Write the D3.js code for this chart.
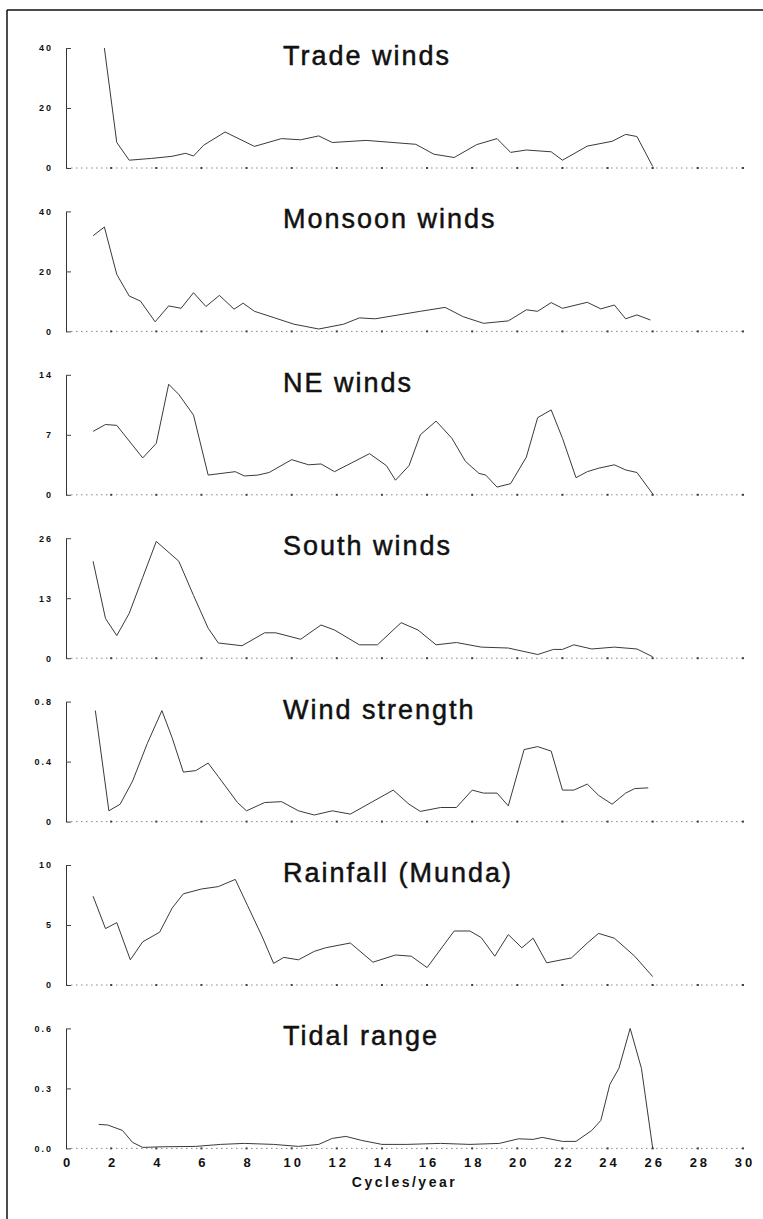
<!DOCTYPE html>
<html>
<head>
<meta charset="utf-8">
<script src="https://cdn.jsdelivr.net/npm/d3@7"></script>
<style>
  html, body { margin: 0; padding: 0; background: #fff; }
  svg { display: block; }
</style>
</head>
<body>
<svg id="chart" width="763" height="1219"></svg>
<script>
// ---------- data (cycles/year, spectral value) ----------
const titles = ["Trade winds", "Monsoon winds", "NE winds", "South winds",
                "Wind strength", "Rainfall (Munda)", "Tidal range"];
const yMaxes = [40, 40, 14, 26, 0.8, 10, 0.6];
const yTickValues = [[0, 20, 40], [0, 20, 40], [0, 7, 14], [0, 13, 26],
                     [0, 0.4, 0.8], [0, 5, 10], [0, 0.3, 0.6]];
const yTickLabels = [["0", "20", "40"], ["0", "20", "40"], ["0", "7", "14"], ["0", "13", "26"],
                     ["0", "0.4", "0.8"], ["0", "5", "10"], ["0.0", "0.3", "0.6"]];
const xTickValues = [0, 2, 4, 6, 8, 10, 12, 14, 16, 18, 20, 22, 24, 26, 28, 30];
const xTickLabels = ["0", "2", "4", "6", "8", "10", "12", "14", "16", "18", "20", "22", "24", "26", "28", "30"];
const xLabel = "Cycles/year";

const tradeWinds = [[1.7,40],[2.25,8.5],[2.8,2.6],[3.8,3.2],[4.7,3.9],[5.3,4.9],[5.65,4.0],[6.1,7.6],
  [7.05,12],[8.35,7.2],[9.55,9.8],[10.4,9.4],[11.2,10.7],[11.8,8.5],[13.3,9.2],[15.5,7.9],[16.3,4.6],
  [17.2,3.5],[18.2,7.8],[19.1,9.8],[19.7,5.2],[20.4,6.0],[21.5,5.4],[22.0,2.6],[23.1,7.3],[24.2,8.9],
  [24.8,11.2],[25.3,10.5],[26.0,0.5]];
const monsoonWinds = [[1.2,31.9],[1.7,34.8],[2.25,19.0],[2.8,11.8],[3.3,10.1],[3.95,3.2],[4.55,8.5],
  [5.1,7.7],[5.65,12.9],[6.2,8.3],[6.8,12.0],[7.45,7.4],[7.85,9.4],[8.35,6.7],[9.25,4.5],[10.1,2.4],
  [11.2,0.8],[12.3,2.4],[13.0,4.5],[13.7,4.2],[15.7,6.7],[16.8,8.0],[17.6,4.9],[18.5,2.7],[19.6,3.5],
  [20.4,7.2],[20.9,6.7],[21.5,9.6],[22.0,7.7],[23.1,9.7],[23.7,7.5],[24.3,8.8],[24.8,4.2],[25.3,5.5],[25.9,3.8]];
const neWinds = [[1.2,7.4],[1.75,8.2],[2.25,8.1],[3.4,4.3],[4.0,6.0],[4.55,12.9],[5.0,11.7],[5.65,9.3],
  [6.3,2.3],[7.5,2.7],[7.9,2.2],[8.5,2.3],[9.0,2.6],[10.0,4.1],[10.75,3.5],[11.3,3.6],[11.9,2.7],
  [13.45,4.8],[14.2,3.4],[14.6,1.7],[15.2,3.4],[15.7,7.0],[16.4,8.6],[17.1,6.6],[17.7,3.9],[18.3,2.5],
  [18.6,2.3],[19.1,0.9],[19.7,1.3],[20.4,4.4],[20.9,9.0],[21.5,9.9],[22.0,6.6],[22.6,2.0],[23.1,2.7],
  [23.6,3.1],[24.3,3.5],[24.8,2.9],[25.3,2.6],[26.0,0.1]];
const southWinds = [[1.2,21.0],[1.75,8.6],[2.25,4.9],[2.8,9.7],[3.4,17.5],[4.0,25.3],[5.0,21.0],[5.65,13.6],
  [6.3,6.5],[6.75,3.3],[7.8,2.7],[8.8,5.5],[9.3,5.5],[10.4,4.1],[11.3,7.2],[11.9,6.1],[13.0,2.9],[13.8,2.9],
  [14.85,7.7],[15.6,6.1],[16.4,2.9],[17.3,3.4],[18.4,2.4],[19.6,2.2],[20.9,0.8],[21.6,1.9],[22.0,1.9],
  [22.5,2.9],[23.3,2.0],[24.3,2.4],[25.3,2.0],[26.0,0.3]];
const windStrength = [[1.3,0.74],[1.9,0.072],[2.4,0.116],[2.95,0.27],[3.6,0.52],[4.25,0.74],[4.7,0.56],
  [5.2,0.33],[5.75,0.34],[6.3,0.39],[6.75,0.30],[7.6,0.127],[8.0,0.072],[8.8,0.127],[9.55,0.133],
  [10.3,0.072],[11.0,0.044],[11.8,0.072],[12.6,0.05],[14.5,0.21],[15.2,0.116],[15.7,0.068],[16.6,0.094],
  [17.3,0.094],[18.0,0.21],[18.5,0.19],[19.1,0.19],[19.6,0.105],[20.3,0.48],[20.9,0.50],[21.5,0.47],
  [22.0,0.21],[22.5,0.21],[23.1,0.25],[23.6,0.175],[24.2,0.116],[24.8,0.19],[25.2,0.22],[25.8,0.225]];
const rainfallMunda = [[1.2,7.4],[1.75,4.7],[2.25,5.2],[2.85,2.1],[3.4,3.6],[4.15,4.4],[4.7,6.4],[5.2,7.6],
  [6.0,8.0],[6.75,8.2],[7.5,8.8],[8.05,6.6],[8.7,4.0],[9.2,1.8],[9.65,2.3],[10.3,2.1],[11.0,2.8],
  [11.5,3.1],[12.05,3.3],[12.6,3.5],[13.6,1.9],[14.6,2.5],[15.3,2.4],[16.0,1.45],[17.2,4.5],[17.9,4.5],
  [18.4,3.95],[19.0,2.4],[19.6,4.2],[20.2,3.1],[20.7,3.9],[21.3,1.85],[22.4,2.26],[23.1,3.5],[23.6,4.3],
  [24.3,3.9],[25.2,2.4],[26.0,0.7]];
const tidalRange = [[1.45,0.12],[1.85,0.117],[2.5,0.09],[2.95,0.03],[3.4,0.005],[4.25,0.008],[5.75,0.01],
  [6.85,0.02],[7.9,0.025],[9.2,0.02],[10.3,0.01],[11.2,0.02],[11.8,0.05],[12.4,0.06],[13.1,0.04],
  [14.0,0.02],[15.1,0.02],[16.6,0.025],[17.9,0.02],[19.2,0.025],[20.05,0.048],[20.7,0.045],[21.1,0.055],
  [22.0,0.035],[22.6,0.035],[23.3,0.09],[23.7,0.14],[24.1,0.32],[24.5,0.40],[25.0,0.60],[25.5,0.40],[26.0,0.0]];

const seriesList = [tradeWinds, monsoonWinds, neWinds, southWinds, windStrength, rainfallMunda, tidalRange];

// ---------- layout ----------
const svg = d3.select("#chart");
const x = d3.scaleLinear().domain([0, 30]).range([66, 743]);
const panelTop0 = 48, panelStep = 163.4, panelH = 120;
const fontFam = "'Liberation Sans', Arial, Helvetica, sans-serif";

// outer frame (top + left)
svg.append("line").attr("x1", 7).attr("x2", 763).attr("y1", 10).attr("y2", 10)
  .attr("stroke", "#111").attr("stroke-width", 1.5);
svg.append("line").attr("x1", 7).attr("x2", 7).attr("y1", 10).attr("y2", 1219)
  .attr("stroke", "#111").attr("stroke-width", 1.5);

const line = d3.line().x(d => x(d[0]));

seriesList.forEach((data, i) => {
  const top = panelTop0 + i * panelStep;
  const y = d3.scaleLinear().domain([0, yMaxes[i]]).range([top + panelH, top]);
  const g = svg.append("g");

  // zero baseline (dotted)
  g.append("line")
    .attr("x1", x(0)).attr("x2", x(30)).attr("y1", y(0)).attr("y2", y(0))
    .attr("stroke", "#888").attr("stroke-width", 1).attr("stroke-dasharray", "1.5,3.5");
  // small dots at x ticks
  g.selectAll("rect.xt").data(xTickValues.slice(1)).join("rect")
    .attr("x", d => x(d) - 1).attr("y", y(0) - 1).attr("width", 2).attr("height", 2)
    .attr("fill", "#444");

  // y axis
  const labels = yTickLabels[i];
  const ax = d3.axisLeft(y).tickValues(yTickValues[i])
    .tickSizeInner(-5).tickSizeOuter(0).tickPadding(13)
    .tickFormat((d, k) => labels[k]);
  const ag = g.append("g").attr("transform", `translate(${x(0)},0)`).call(ax);
  ag.select(".domain").attr("stroke", "#333").attr("stroke-width", 1);
  ag.selectAll(".tick line").attr("stroke", "#444");
  ag.selectAll(".tick text")
    .attr("font-family", fontFam).attr("font-size", 9).attr("font-weight", "bold")
    .attr("letter-spacing", 2).attr("fill", "#111");

  // title
  g.append("text")
    .attr("x", 283).attr("y", top + 17)
    .attr("font-family", fontFam).attr("font-size", 27).attr("letter-spacing", 2)
    .attr("fill", "#111").attr("stroke", "#111").attr("stroke-width", 0.5)
    .text(titles[i]);

  // series line
  line.y(d => y(d[1]));
  g.append("path").datum(data)
    .attr("d", line).attr("fill", "none")
    .attr("stroke", "#3a3a3a").attr("stroke-width", 1).attr("stroke-linejoin", "round");

  // x axis labels on the last panel
  if (i === seriesList.length - 1) {
    const xa = d3.axisBottom(x).tickValues(xTickValues).tickSize(0).tickPadding(9)
      .tickFormat((d, k) => xTickLabels[k]);
    const xg = g.append("g").attr("transform", `translate(0,${y(0)})`).call(xa);
    xg.select(".domain").remove();
    xg.selectAll(".tick text")
      .attr("font-family", fontFam).attr("font-size", 13).attr("font-weight", "bold")
      .attr("letter-spacing", 3).attr("dx", 1.5).attr("fill", "#111");
    g.append("text")
      .attr("x", (x(0) + x(30)) / 2).attr("y", y(0) + 39)
      .attr("text-anchor", "middle")
      .attr("font-family", fontFam).attr("font-size", 14).attr("font-weight", "bold")
      .attr("letter-spacing", 2.5).attr("fill", "#111").text(xLabel);
  }
});
</script>
</body>
</html>
